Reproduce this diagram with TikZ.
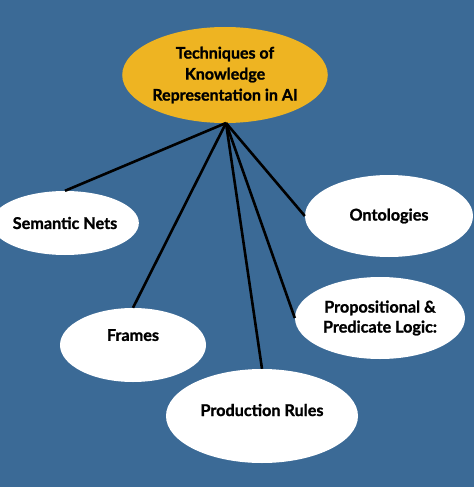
\documentclass[tikz,border=0pt]{standalone}
\usepackage{fontspec}
\setmainfont{Lato}[BoldFeatures={FakeBold=1.2}]
\usetikzlibrary{shapes.geometric}
\definecolor{bgblue}{HTML}{3B6A96}
\definecolor{gold}{HTML}{EEB422}
\begin{document}
\begin{tikzpicture}[x=1pt,y=-1pt,
  leaf/.style={ellipse, fill=white, inner sep=0pt, font=\fontsize{16.2}{20}\selectfont\bfseries, align=center},
  conn/.style={line width=2.6pt, black}]
\fill[bgblue] (0,0) rectangle (474,487);
\useasboundingbox (0,0) rectangle (474,487);
\node[ellipse, fill=gold, minimum width=194pt, minimum height=96pt, inner sep=0pt, align=center,
  font=\fontsize{16}{21}\selectfont\bfseries] (root) at (225,75) {Techniques of\\Knowledge\\Representation in AI};
\node[leaf, minimum width=126pt, minimum height=64pt] (sn) at (65,223) {Semantic Nets};
\node[leaf, minimum width=168pt, minimum height=82pt] (on) at (389,216) {Ontologies};
\node[leaf, minimum width=146pt, minimum height=74pt, text depth=20pt] (fr) at (133,345) {Frames};
\node[leaf, minimum width=170pt, minimum height=82pt] (pl) at (380,318) {Propositional \&\\Predicate Logic:};
\node[leaf, minimum width=192pt, minimum height=94pt, text depth=12pt] (pr) at (262,416) {Production Rules};
\coordinate (apex) at (226,123);
\draw[conn] (apex) -- (sn.north);
\draw[conn] (apex) -- (fr.north);
\draw[conn] (apex) -- (pr.north);
\draw[conn] (apex) -- (on.west);
\draw[conn] (apex) -- (pl.west);
\end{tikzpicture}
\end{document}
